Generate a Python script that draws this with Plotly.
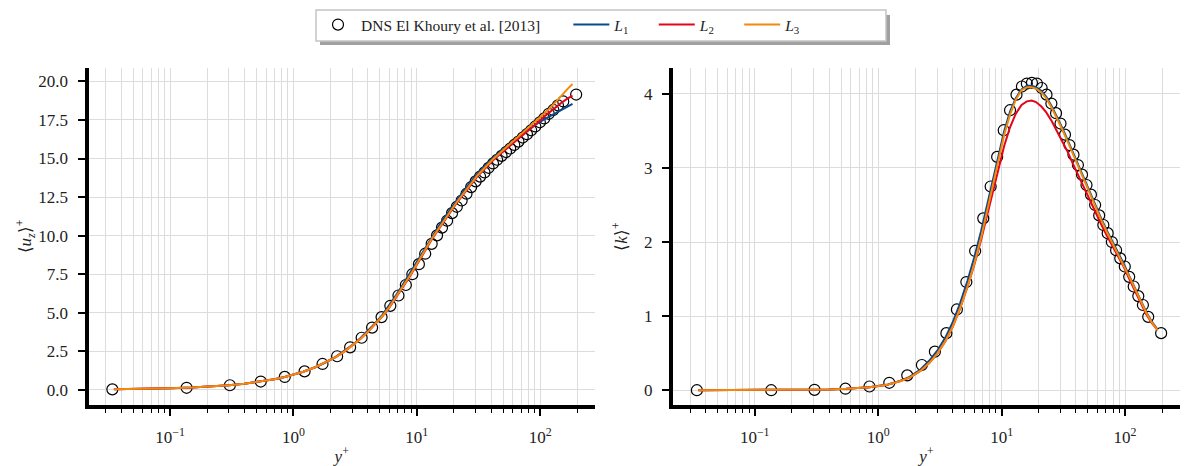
import plotly.graph_objects as go

# ---- DNS El Khoury et al. [2013] ----
dns_yplus = [0.034, 0.136, 0.305, 0.543, 0.85, 1.23, 1.72, 2.26, 2.88, 3.57, 4.34, 5.18, 6.1, 7.1,
             8.15, 9.2, 10.4, 11.7, 13.2, 14.6, 16.0, 17.6, 19.3, 21.1, 23.1, 25.3, 27.6, 30.0,
             32.6, 35.4, 38.2, 41.5, 44.8, 48.7, 52.9, 57.2, 61.7, 66.7, 72.3, 78.2, 84.6, 91.4,
             99.5, 108, 117.5, 128, 139.5, 154, 196]
dns_u = [0.034, 0.136, 0.30, 0.54, 0.84, 1.2, 1.68, 2.18, 2.76, 3.38, 4.04, 4.72, 5.45, 6.12,
         6.8, 7.5, 8.15, 8.83, 9.47, 10.02, 10.52, 10.97, 11.46, 11.87, 12.28, 12.72, 13.15, 13.52,
         13.83, 14.1, 14.4, 14.68, 14.92, 15.17, 15.42, 15.65, 15.88, 16.1, 16.36, 16.58, 16.83,
         17.08, 17.35, 17.6, 17.9, 18.15, 18.45, 18.7, 19.15]
dns_k = [0.0, 0.0, 0.005, 0.02, 0.05, 0.10, 0.20, 0.34, 0.52, 0.77, 1.09, 1.46, 1.88, 2.32,
         2.75, 3.15, 3.51, 3.78, 3.99, 4.10, 4.14, 4.15, 4.14, 4.08, 3.99, 3.87, 3.74, 3.60,
         3.45, 3.31, 3.18, 3.04, 2.91, 2.77, 2.64, 2.50, 2.36, 2.23, 2.12, 2.00, 1.89, 1.78,
         1.67, 1.53, 1.40, 1.27, 1.15, 0.99, 0.77]

# ---- model curves (L1, L2, L3) ----
line_yplus = [0.035, 0.05, 0.07, 0.1, 0.15, 0.2, 0.3, 0.4, 0.55, 0.7, 0.85, 1.0, 1.2, 1.5, 1.8,
              2.2, 2.6, 3.0, 3.5, 4.0, 4.6, 5.3, 6.0, 6.8, 7.6, 8.5, 9.5, 10.5, 11.7, 13.0, 14.5,
              16.0, 17.5, 19.0, 21.0, 23.0, 25.5, 28.0, 31.0, 34.0, 38.0, 42.0, 47.0, 52.0, 58.0,
              64.0, 71.0, 79.0, 88.0, 98.0, 109, 121, 134, 148, 164, 183]

u_L1 = [0.035, 0.05, 0.07, 0.1, 0.15, 0.2, 0.3, 0.4, 0.55, 0.69, 0.84, 0.99, 1.18, 1.47, 1.76,
        2.14, 2.52, 2.9, 3.36, 3.8, 4.32, 4.9, 5.5, 6.15, 6.75, 7.38, 8.0, 8.6, 9.25, 9.85, 10.42,
        10.95, 11.38, 11.8, 12.3, 12.7, 13.18, 13.6, 14.02, 14.35, 14.75, 15.08, 15.42, 15.7,
        16.02, 16.28, 16.55, 16.82, 17.08, 17.35, 17.55, 17.75, 17.95, 18.15, 18.35, 18.55]
u_L2 = [0.035, 0.05, 0.07, 0.1, 0.15, 0.2, 0.3, 0.4, 0.55, 0.69, 0.84, 0.99, 1.18, 1.47, 1.76,
        2.13, 2.5, 2.87, 3.32, 3.75, 4.25, 4.8, 5.35, 5.98, 6.55, 7.17, 7.8, 8.4, 9.05, 9.65, 10.22,
        10.75, 11.18, 11.6, 12.1, 12.5, 12.98, 13.42, 13.85, 14.18, 14.58, 14.92, 15.26, 15.55,
        15.87, 16.15, 16.45, 16.76, 17.07, 17.4, 17.75, 18.05, 18.35, 18.6, 18.85, 19.08]
u_L3 = [0.035, 0.05, 0.07, 0.1, 0.15, 0.2, 0.3, 0.4, 0.55, 0.69, 0.84, 0.99, 1.18, 1.47, 1.76,
        2.13, 2.5, 2.87, 3.32, 3.75, 4.25, 4.82, 5.38, 6.02, 6.6, 7.22, 7.85, 8.45, 9.1, 9.7, 10.27,
        10.8, 11.23, 11.65, 12.15, 12.55, 13.03, 13.47, 13.9, 14.24, 14.65, 15.0, 15.35, 15.66,
        16.0, 16.3, 16.6, 16.92, 17.25, 17.6, 17.95, 18.3, 18.65, 19.05, 19.45, 19.83]

k_L1 = [0.0, 0.0, 0.0005, 0.001, 0.002, 0.003, 0.006, 0.01, 0.018, 0.028, 0.04, 0.055, 0.078,
        0.125, 0.18, 0.28, 0.40, 0.53, 0.71, 0.91, 1.17, 1.48, 1.79, 2.14, 2.48, 2.85, 3.19,
        3.5, 3.76, 3.94, 4.06, 4.11, 4.11, 4.09, 4.04, 3.96, 3.83, 3.70, 3.54, 3.39, 3.20, 3.02,
        2.83, 2.66, 2.48, 2.32, 2.16, 2.01, 1.85, 1.70, 1.53, 1.37, 1.21, 1.06, 0.93, 0.82]
k_L2 = [0.0, 0.0, 0.0005, 0.001, 0.002, 0.003, 0.006, 0.01, 0.018, 0.028, 0.04, 0.055, 0.075,
        0.12, 0.17, 0.26, 0.37, 0.49, 0.66, 0.85, 1.1, 1.4, 1.69, 2.02, 2.35, 2.7, 3.02, 3.3,
        3.55, 3.73, 3.85, 3.9, 3.91, 3.89, 3.83, 3.75, 3.63, 3.5, 3.37, 3.23, 3.05, 2.89, 2.71,
        2.56, 2.39, 2.24, 2.09, 1.95, 1.80, 1.66, 1.49, 1.33, 1.18, 1.03, 0.91, 0.81]
k_L3 = [0.0, 0.0, 0.0005, 0.001, 0.002, 0.003, 0.006, 0.01, 0.018, 0.028, 0.04, 0.055, 0.075,
        0.12, 0.17, 0.26, 0.37, 0.49, 0.66, 0.85, 1.1, 1.4, 1.70, 2.05, 2.40, 2.78, 3.13, 3.45,
        3.72, 3.92, 4.05, 4.09, 4.09, 4.07, 4.02, 3.94, 3.81, 3.68, 3.52, 3.37, 3.18, 3.0, 2.81,
        2.64, 2.46, 2.30, 2.14, 1.99, 1.84, 1.69, 1.52, 1.36, 1.20, 1.05, 0.92, 0.81]

dns_name = "DNS El Khoury et al. [2013]"
series_names = ["<i>L</i><sub>1</sub>", "<i>L</i><sub>2</sub>", "<i>L</i><sub>3</sub>"]
series_colors = ["#0b4a8b", "#e3051b", "#f28a0c"]

xtick_vals = [0.1, 1, 10, 100]
xtick_text = ["10<sup>−1</sup>", "10<sup>0</sup>", "10<sup>1</sup>", "10<sup>2</sup>"]
minor_vals = [m * 10.0 ** e for e in range(-2, 3) for m in range(2, 10)]

FONT = "Liberation Serif"
W, H = 1188, 466
GAP = "\u00a0" * 5          # spacing between legend entries
TAIL = "\u00a0" * 2

fig = go.Figure()

for ax, yvals in (("", dns_u), ("2", dns_k)):
    fig.add_trace(go.Scatter(
        x=dns_yplus, y=yvals, mode="markers", name=dns_name + GAP + "\u00a0",
        xaxis="x" + ax, yaxis="y" + ax, showlegend=(ax == ""),
        marker=dict(symbol="circle-open", size=11, color="black", line=dict(width=1.2, color="black")),
        legendrank=1))

for i, (uu, kk) in enumerate(((u_L1, k_L1), (u_L2, k_L2), (u_L3, k_L3))):
    for ax, yvals in (("", uu), ("2", kk)):
        fig.add_trace(go.Scatter(
            x=line_yplus, y=yvals, mode="lines",
            name=series_names[i] + (GAP if i < 2 else TAIL),
            xaxis="x" + ax, yaxis="y" + ax, showlegend=(ax == ""),
            line=dict(color=series_colors[i], width=2), legendrank=2 + i))

grid = "#dcdcdc"
tickfont = dict(family=FONT, size=17, color="#222")
xcommon = dict(
    type="log", range=[-1.662, 2.445], showline=True, linewidth=4, linecolor="black",
    ticks="outside", ticklen=7, tickwidth=2, tickcolor="black", ticklabelstandoff=7,
    tickvals=xtick_vals, ticktext=xtick_text, showgrid=True, gridcolor=grid, gridwidth=1,
    minor=dict(tickvals=minor_vals, ticks="outside", ticklen=4, tickwidth=1, tickcolor="black",
               showgrid=True, gridcolor=grid, gridwidth=1),
    zeroline=False, tickfont=tickfont, automargin=False,
    title=dict(text="<i>y</i><sup>+</sup>", font=tickfont, standoff=6),
)
ycommon = dict(
    showline=True, linewidth=4, linecolor="black", ticks="outside", ticklen=7, tickwidth=2,
    tickcolor="black", showgrid=True, gridcolor=grid, gridwidth=1, zeroline=False,
    ticklabelstandoff=6, automargin=False,
    tickfont=tickfont, domain=[61 / H, 398 / H],
)

fig.update_layout(
    width=W, height=H, margin=dict(l=0, r=0, t=0, b=0, autoexpand=False),
    paper_bgcolor="white", plot_bgcolor="white",
    xaxis={**xcommon, "domain": [88.5 / W, 595 / W], "anchor": "y"},
    xaxis2={**xcommon, "domain": [673 / W, 1180 / W], "anchor": "y2"},
    yaxis={**ycommon, "range": [-0.98, 20.87], "tickvals": [0, 2.5, 5, 7.5, 10, 12.5, 15, 17.5, 20],
           "tickformat": ".1f", "anchor": "x",
           "title": dict(text="⟨<i>u</i><sub><i>z</i></sub>⟩<sup>+</sup>", font=tickfont, standoff=3)},
    yaxis2={**ycommon, "range": [-0.2, 4.35], "tickvals": [0, 1, 2, 3, 4], "anchor": "x2",
            "title": dict(text="⟨<i>k</i>⟩<sup>+</sup>", font=tickfont, standoff=13)},
    legend=dict(orientation="h", x=315 / W, xanchor="left", y=1 - 8 / H, yanchor="top",
                bgcolor="rgba(0,0,0,0)", borderwidth=0,
                font=dict(family=FONT, size=15.5, color="#222"), itemwidth=36),
    shapes=[
        dict(type="rect", xref="paper", yref="paper",
             x0=320 / W, x1=890 / W, y0=1 - 45 / H, y1=1 - 15 / H,
             fillcolor="#a0a0a0", line=dict(width=0), layer="above"),
        dict(type="rect", xref="paper", yref="paper",
             x0=316 / W, x1=886 / W, y0=1 - 41 / H, y1=1 - 10 / H,
             fillcolor="white", line=dict(width=1.5, color="#c4c4c4"), layer="above"),
    ],
    showlegend=True,
)

fig.write_html("out.html", config={"displayModeBar": False},
               post_script="document.body.style.margin='0';document.body.style.overflow='hidden';")
